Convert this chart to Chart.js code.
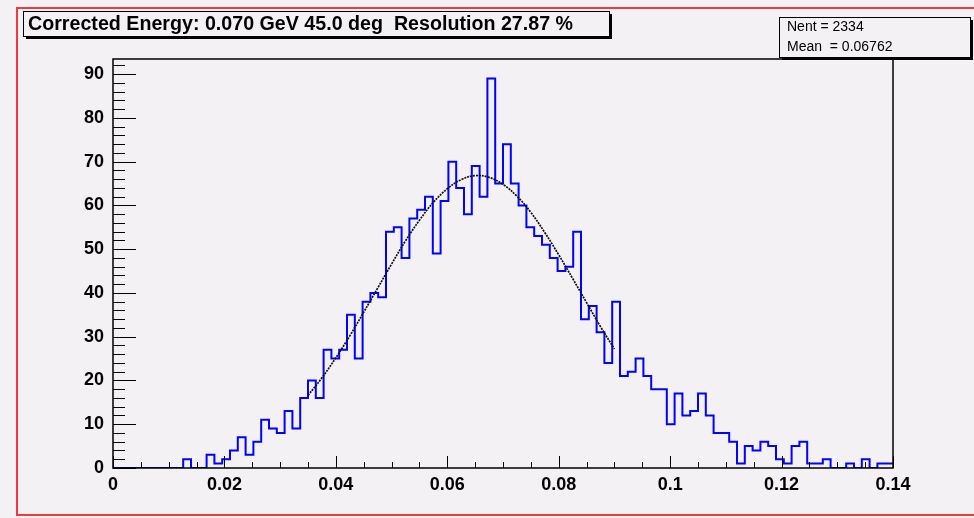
<!DOCTYPE html>
<html>
<head>
<meta charset="utf-8">
<script src="https://cdn.jsdelivr.net/npm/chart.js@4"></script>
<style>
  html, body { margin: 0; padding: 0; background: #f4f1f4; }
  canvas { display: block; }
</style>
</head>
<body>
<canvas id="histo" width="974" height="518"></canvas>
<script>
/* Energie corrigée — histogramme façon ROOT + ajustement gaussien */

const titre = 'Corrected Energy: 0.070 GeV 45.0 deg  Resolution 27.87 %';
const statsLignes = ['Nent = 2334', 'Mean  = 0.06762'];

// 100 bins entre 0 et 0.14
const xMin = 0, xMax = 0.14, nBins = 100;
const comptes = [
  0, 0, 0, 0, 0, 0, 0, 0, 0, 2,
  0, 0, 3, 1, 2, 4, 7, 3, 6, 11,
  9, 8, 13, 9, 16, 20, 16, 27, 25, 27,
  35, 25, 38, 40, 39, 54, 55, 48, 57, 59,
  62, 49, 61, 70, 64, 58, 69, 62, 89, 65,
  74, 65, 60, 55, 53, 51, 48, 45, 46, 54,
  34, 37, 31, 24, 38, 21, 22, 25, 21, 18,
  18, 10, 17, 12, 13, 17, 12, 8, 8, 6,
  1, 5, 4, 6, 5, 2, 1, 5, 6, 1,
  1, 2, 0, 0, 1, 0, 2, 0, 1, 1
];

// courbe d'ajustement
const fitX = [0.035, 0.0375, 0.04, 0.0425, 0.045, 0.0475, 0.05, 0.0525, 0.055, 0.0575, 0.06, 0.0625,
              0.065, 0.0675, 0.07, 0.0725, 0.075, 0.0775, 0.08, 0.0825, 0.085, 0.0875, 0.09];
const fitY = [16.6, 20.6, 25.2, 30.2, 35.6, 41.1, 46.6, 51.9, 56.6, 60.7, 63.8, 65.9,
              66.8, 66.4, 64.8, 62.1, 58.4, 53.8, 48.7, 43.3, 37.8, 32.3, 27.2];

const xMajeurs = [0, 0.02, 0.04, 0.06, 0.08, 0.1, 0.12, 0.14];
const xLabels  = ['0', '0.02', '0.04', '0.06', '0.08', '0.1', '0.12', '0.14'];
const xDivMin  = 4;
const yMajeurs = [0, 10, 20, 30, 40, 50, 60, 70, 80, 90];
const yLabels  = ['0', '10', '20', '30', '40', '50', '60', '70', '80', '90'];
const yDivMin  = 5;
const yMax = 93.45;

const FOND = '#f4f1f4';
const POLICE = "'Liberation Sans', Arial, sans-serif";

// points de l'histogramme (bords gauches des bins + bord final)
const largeur = (xMax - xMin) / nBins;
const histoPts = comptes.map((c, i) => ({ x: xMin + i * largeur, y: c }));
histoPts.push({ x: xMax, y: comptes[nBins - 1] });
const fitPts = fitX.map((x, i) => ({ x: x, y: fitY[i] }));

// graduations mineures
function subdiviser(majeurs, n, borne) {
    const res = [];
    const pas = (majeurs[1] - majeurs[0]) / n;
    for (let k = 0; k < majeurs.length; k++) {
        for (let j = 0; j < n; j++) {
            const v = majeurs[k] + j * pas;
            if (v <= borne + 1e-9) res.push(v);
        }
    }
    return res;
}
const xTicks = subdiviser(xMajeurs, xDivMin, xMax);
const yTicks = subdiviser(yMajeurs, yDivMin, yMax);

function etiquette(v, majeurs, labels) {
    const k = majeurs.findIndex(m => Math.abs(m - v) < 1e-9);
    return k >= 0 ? labels[k] : '';
}

function boite(c, x, y, w, h) {
    c.fillStyle = FOND;
    c.fillRect(x, y, w, h);
    c.fillStyle = '#000';
    c.fillRect(x + 3, y + h, w, 3);
    c.fillRect(x + w, y + 3, 3, h);
    c.strokeStyle = '#000';
    c.lineWidth = 1;
    c.strokeRect(x + 0.5, y + 0.5, w, h);
}

const decor = {
    id: 'decor',
    beforeDraw(chart) {
        const c = chart.ctx;
        c.save();
        c.fillStyle = FOND;
        c.fillRect(0, 0, chart.width, chart.height);
        c.strokeStyle = '#ee3a3a';
        c.lineWidth = 2;
        c.strokeRect(17, 8, 1000, 507);
        c.restore();
    },
    afterDraw(chart) {
        const c = chart.ctx, a = chart.chartArea;
        const sx = chart.scales.x, sy = chart.scales.y;
        c.save();
        // cadre
        c.strokeStyle = '#000';
        c.lineWidth = 1.5;
        c.strokeRect(a.left, a.top, a.right - a.left, a.bottom - a.top);
        // graduations internes
        c.lineWidth = 1;
        c.beginPath();
        sx.ticks.forEach(t => {
            const px = Math.round(sx.getPixelForValue(t.value)) + 0.5;
            const l = etiquette(t.value, xMajeurs, xLabels) ? 12 : 6;
            c.moveTo(px, a.bottom);
            c.lineTo(px, a.bottom - l);
        });
        sy.ticks.forEach(t => {
            const py = Math.round(sy.getPixelForValue(t.value)) + 0.5;
            const l = etiquette(t.value, yMajeurs, yLabels) ? 23 : 12;
            c.moveTo(a.left, py);
            c.lineTo(a.left + l, py);
        });
        c.stroke();

        // titre
        boite(c, 23, 11, 586, 25);
        c.fillStyle = '#000';
        c.font = 'bold 20px ' + POLICE;
        c.textBaseline = 'alphabetic';
        c.fillText(titre, 28, 30, 545);

        // statistiques
        boite(c, 779, 17, 191, 40);
        c.font = '14px ' + POLICE;
        c.fillText(statsLignes[0], 787, 31, 82);
        c.fillText(statsLignes[1], 787, 51, 107);
        c.restore();
    }
};

new Chart(document.getElementById('histo'), {
    type: 'line',
    data: {
        datasets: [{
            data: fitPts,
            borderColor: '#111111',
            borderWidth: 1.7,
            borderDash: [2, 1],
            tension: 0.4,
            pointRadius: 0,
            fill: false,
            order: 0
        }, {
            data: histoPts,
            borderColor: '#0000ff',
            borderWidth: 2,
            stepped: true,
            pointRadius: 0,
            fill: false,
            order: 1
        }]
    },
    options: {
        responsive: false,
        animation: false,
        devicePixelRatio: 1,
        layout: { padding: { top: 59, right: 81, left: 0, bottom: 0 } },
        plugins: { legend: { display: false }, tooltip: { enabled: false } },
        scales: {
            x: {
                type: 'linear', min: xMin, max: xMax,
                grid: { display: false, drawTicks: false },
                border: { display: false },
                afterBuildTicks: s => { s.ticks = xTicks.map(v => ({ value: v })); },
                afterFit: s => { s.height = 50; },
                ticks: {
                    autoSkip: false, maxRotation: 0, padding: 6, color: '#000',
                    font: { family: POLICE, weight: 'bold', size: 18 },
                    callback: v => etiquette(v, xMajeurs, xLabels)
                }
            },
            y: {
                min: 0, max: yMax,
                grid: { display: false, drawTicks: false },
                border: { display: false },
                afterBuildTicks: s => { s.ticks = yTicks.map(v => ({ value: v })); },
                afterFit: s => { s.width = 113; },
                ticks: {
                    autoSkip: false, padding: 9, color: '#000',
                    font: { family: POLICE, weight: 'bold', size: 18 },
                    callback: v => etiquette(v, yMajeurs, yLabels)
                }
            }
        }
    },
    plugins: [decor]
});
</script>
</body>
</html>
